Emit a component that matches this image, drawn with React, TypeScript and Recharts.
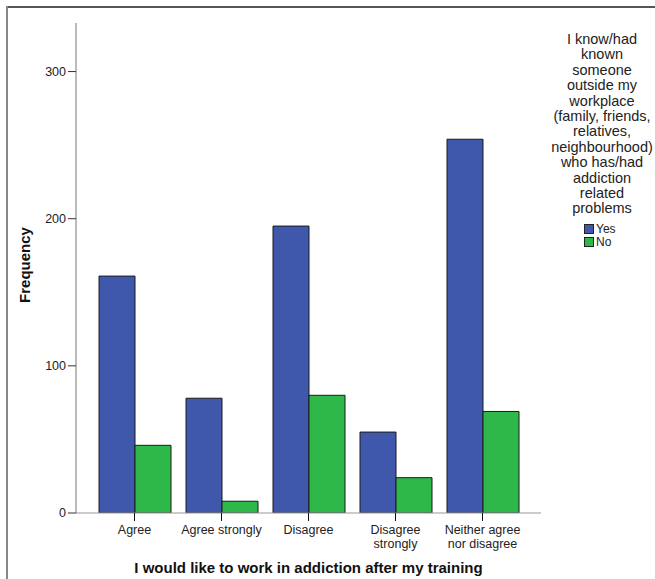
import React from 'react';
import { BarChart, Bar, XAxis, YAxis, Label } from 'recharts';

const categories = ['Agree', 'Agree strongly', 'Disagree', 'Disagree strongly', 'Neither agree nor disagree'];
const categoryLabelLines = [['Agree'], ['Agree strongly'], ['Disagree'], ['Disagree', 'strongly'], ['Neither agree', 'nor disagree']];
const yesValues = [161, 78, 195, 55, 254];
const noValues = [46, 8, 80, 24, 69];
const yTicks = [0, 100, 200, 300];
const seriesKeys = ['yes', 'no'];
const seriesNames = ['Yes', 'No'];
const seriesColors = ['#3F58AB', '#2FB84A'];
const legendTitleLines = [
  'I know/had', 'known', 'someone', 'outside my', 'workplace', '(family, friends,',
  'relatives,', 'neighbourhood)', 'who has/had', 'addiction', 'related', 'problems',
];
const xAxisTitle = 'I would like to work in addiction after my training';
const yAxisTitle = 'Frequency';

const data = categories.map((c, i) => ({ category: c, yes: yesValues[i], no: noValues[i] }));

const FONT = '"Liberation Sans", Arial, sans-serif';

const XTick = (props: any) => {
  const { x, y, payload } = props;
  const idx = categories.indexOf(payload.value);
  const lines = idx >= 0 ? categoryLabelLines[idx] : [String(payload.value)];
  return (
    <text x={x} y={y + 11} textAnchor="middle" fontSize={12.5} fill="#222" fontFamily={FONT}>
      {lines.map((l, i) => (
        <tspan key={i} x={x} dy={i === 0 ? 0 : 14}>{l}</tspan>
      ))}
    </text>
  );
};

const XTitle = (props: any) => {
  const vb = props.viewBox || {};
  const cx = vb.x + vb.width / 2;
  return (
    <text x={cx} y={vb.y + 60} textAnchor="middle" fontSize={15} fontWeight="bold" fill="#111" fontFamily={FONT}>
      {xAxisTitle}
    </text>
  );
};

const YTitle = (props: any) => {
  const vb = props.viewBox || {};
  const x = vb.x + 30;
  const y = vb.y + vb.height / 2 - 3;
  return (
    <text x={x} y={y} transform={`rotate(-90 ${x} ${y})`} textAnchor="middle" fontSize={15} fontWeight="bold" fill="#111" fontFamily={FONT}>
      {yAxisTitle}
    </text>
  );
};

export default function App() {
  return (
    <div style={{ position: 'absolute', left: 0, top: 0, width: 655, height: 579, background: '#fff', overflow: 'hidden' }}>
      <div style={{ position: 'absolute', left: 6, top: 6, width: 700, height: 1.5, background: '#555' }} />
      <div style={{ position: 'absolute', left: 6, top: 6, width: 2, height: 600, background: '#888' }} />
      <div style={{ position: 'absolute', left: 0, top: 0 }}>
        <BarChart
          width={655}
          height={579}
          data={data}
          margin={{ top: 23, right: 114, left: 0, bottom: 26 }}
          barGap={0}
          barSize={36}
        >
          <XAxis
            dataKey="category"
            height={40}
            padding={{ left: 15, right: 15 }}
            tick={<XTick />}
            tickSize={8}
            tickLine={{ stroke: '#111' }}
            axisLine={{ stroke: '#999' }}
            interval={0}
          >
            <Label content={<XTitle />} />
          </XAxis>
          <YAxis
            width={76}
            domain={[0, 333]}
            ticks={yTicks}
            tickSize={8}
            tickMargin={2}
            tickLine={{ stroke: '#333' }}
            axisLine={{ stroke: '#777' }}
            tick={{ fill: '#222', fontSize: 12.5, fontFamily: FONT }}
            allowDataOverflow
          >
            <Label content={<YTitle />} />
          </YAxis>
          {seriesKeys.map((k, i) => (
            <Bar
              key={k}
              dataKey={k}
              name={seriesNames[i]}
              fill={seriesColors[i]}
              stroke="#1a1a1a"
              strokeWidth={1}
              isAnimationActive={false}
            />
          ))}
        </BarChart>
      </div>
      <div style={{ position: 'absolute', left: 542, top: 32, width: 120, fontFamily: FONT, color: '#222' }}>
        {legendTitleLines.map((l, i) => (
          <div key={i} style={{ fontSize: 14.5, lineHeight: '15.4px', height: 15.4, textAlign: 'center', whiteSpace: 'nowrap' }}>{l}</div>
        ))}
        <div style={{ marginTop: 6, paddingLeft: 42 }}>
          {seriesNames.map((n, i) => (
            <div key={n} style={{ display: 'flex', alignItems: 'center', height: 13, fontSize: 12, lineHeight: '13px' }}>
              <span style={{ display: 'inline-block', width: 8, height: 8, background: seriesColors[i], border: '1px solid #222', marginRight: 2 }} />
              <span>{n}</span>
            </div>
          ))}
        </div>
      </div>
    </div>
  );
}
